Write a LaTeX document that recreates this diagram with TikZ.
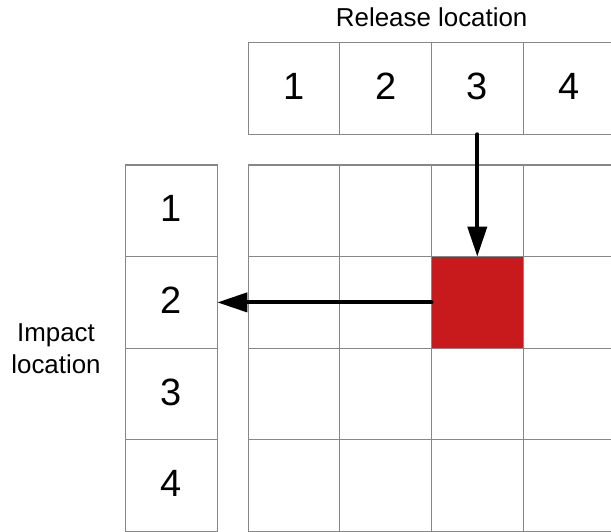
\documentclass[tikz,border=0pt]{standalone}
\usepackage{fontspec}
\setmainfont{Liberation Sans}
\usetikzlibrary{arrows.meta}
\definecolor{gridgray}{RGB}{135,135,135}
\definecolor{hitred}{RGB}{200,26,28}
\tikzset{
  cell/.style={draw=gridgray, line width=1.1pt, minimum width=91.6pt, minimum height=91.6pt,
    inner sep=0pt, outer sep=0pt, text depth=4.5pt, font=\fontsize{38}{45}\selectfont},
  hit/.style={cell, fill=hitred},
  lbl/.style={inner sep=0pt, font=\fontsize{25.9}{31.7}\selectfont},
  arr/.style={line width=4pt, line cap=round, -{Triangle[length=30pt, width=19pt]}}
}
\begin{document}
\begin{tikzpicture}[x=1pt, y=-1pt]
\useasboundingbox (0,0) rectangle (611,532);
% release row
\foreach \c/\xx in {1/294.1, 2/385.7, 3/477.3, 4/568.9} {
  \node[cell] (r\c) at (\xx, 88.5) {\c};
}
% impact column
\foreach \r/\yy in {1/210.8, 2/302.4, 3/394.0, 4/485.6} {
  \node[cell] (l\r) at (171.5, \yy) {\r};
}
% main grid
\foreach \r/\yy in {1/210.8, 2/302.4, 3/394.0, 4/485.6} {
  \foreach \c/\xx in {1/294.1, 2/385.7, 3/477.3, 4/568.9} {
    \node[cell] (g\r\c) at (\xx, \yy) {};
  }
}
\node[hit] (h23) at (g23) {};
% labels
\node[lbl, anchor=base] (rel) at (431.7, 26.7) {Release location};
\node[lbl, align=center] (imp) at (56, 348.5) {Impact\\location};
% arrows
\draw[arr] (r3.south) -- (h23.north);
\draw[arr] (h23.west) -- (l2.east);
\end{tikzpicture}
\end{document}
